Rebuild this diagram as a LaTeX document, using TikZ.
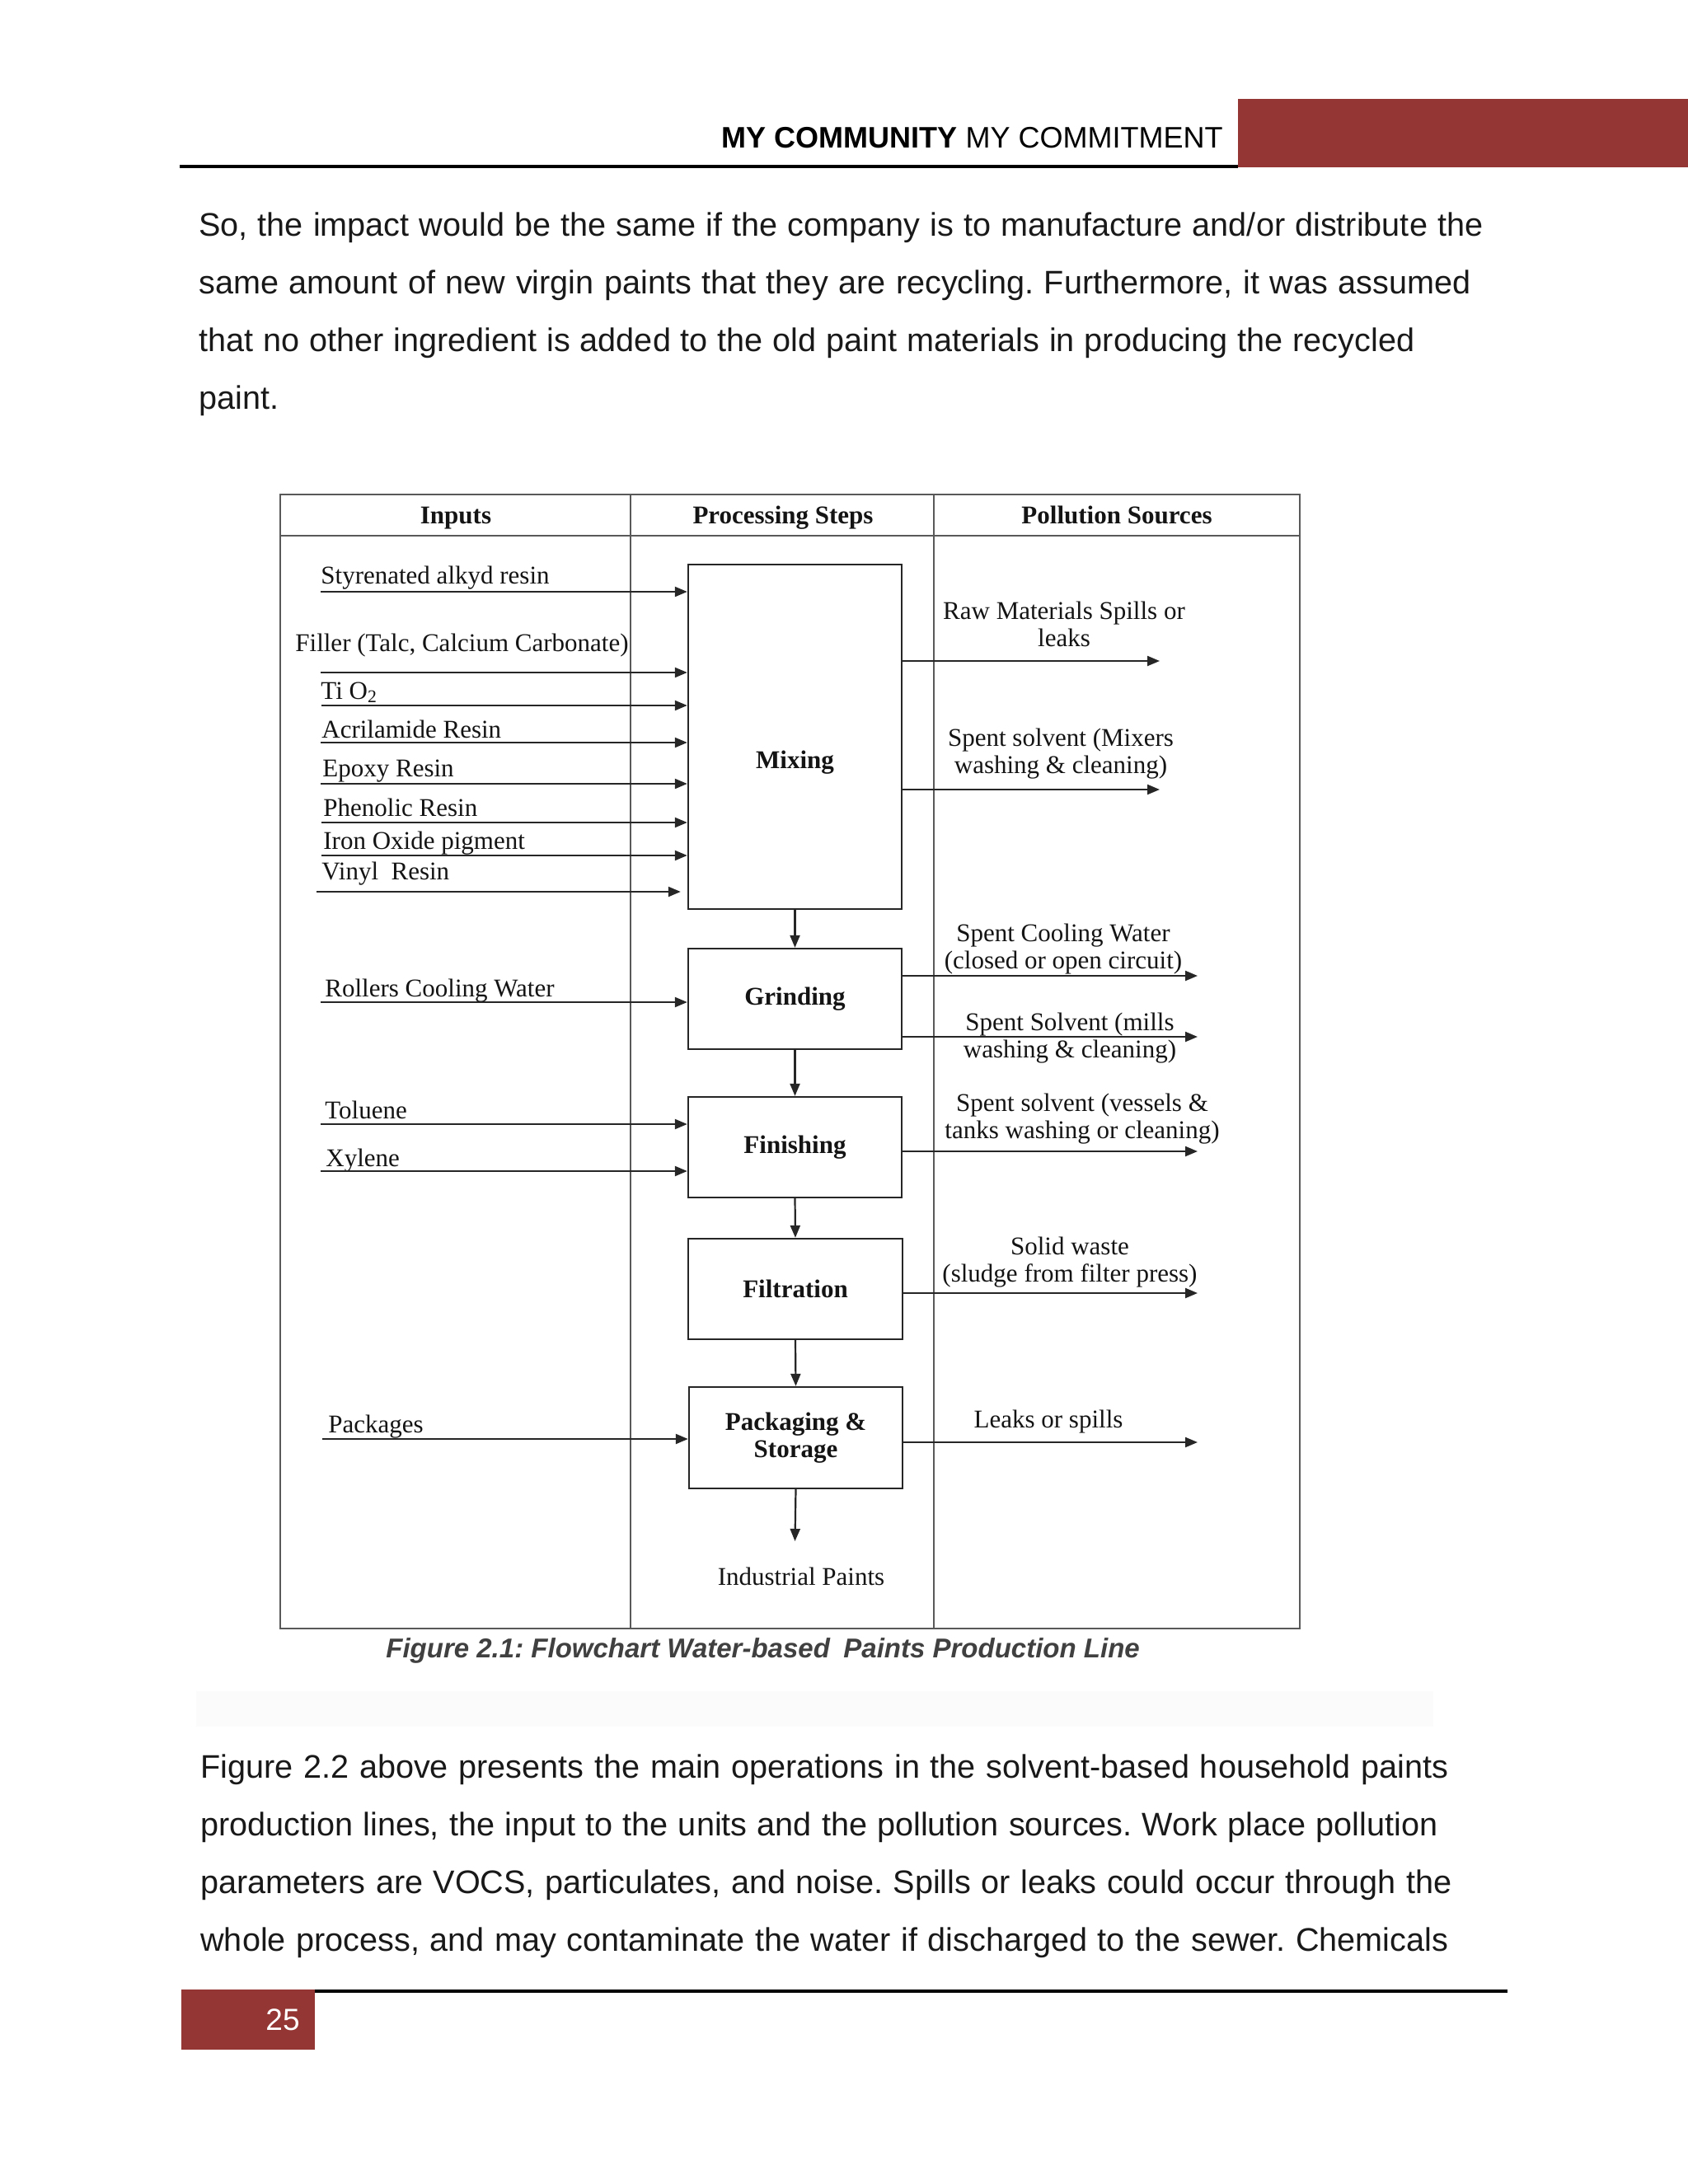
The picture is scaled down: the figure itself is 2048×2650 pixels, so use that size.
\documentclass[tikz,border=0pt]{standalone}
\usepackage{fontspec}
\setmainfont{Liberation Serif}
\newfontfamily\arialfont{Liberation Sans}
\usetikzlibrary{arrows.meta}
\definecolor{hdrred}{RGB}{148,54,52}
\definecolor{capgray}{RGB}{64,64,64}
\frenchspacing
\begin{document}
\begin{tikzpicture}[x=0.5pt,y=-0.5pt,
  lbl/.style={font=\fontsize{15.5}{16.5}\selectfont, inner sep=0pt, anchor=base west, text=black!92},
  hdr/.style={font=\bfseries\fontsize{15.5}{16.5}\selectfont, inner sep=0pt, anchor=base, text=black!92},
  src/.style={font=\fontsize{15.5}{16.5}\selectfont, inner sep=0pt, align=center, text=black!92},
  stepbox/.style={draw=black!85, line width=1.2pt, inner sep=0pt, minimum width=129.5pt, minimum height=61pt,
    font=\bfseries\fontsize{15.5}{16.5}\selectfont, align=center, text=black!92},
  arr/.style={draw=black!85, line width=1.1pt, -{Triangle[length=7.5pt,width=6pt]}},
  framel/.style={draw=black!65, line width=1.1pt},
  bodyline/.style={font=\arialfont\fontsize{19.8}{22}\selectfont, inner sep=0pt, anchor=base west, text=black!90}
]
\useasboundingbox (0,0) rectangle (2048,2650);
\fill[white] (0,0) rectangle (2048,2650);

% ---------- page header ----------
\fill[hdrred] (1502,120) rectangle (2048,203);
\draw[line width=2pt] (218,201.5) -- (1502,201.5);
\node[inner sep=0pt, anchor=base east, font=\arialfont\fontsize{18}{20}\selectfont] (pagehead) at (1484,179)
  {\textbf{MY COMMUNITY} MY COMMITMENT};

% ---------- paragraph 1 ----------
\node[bodyline] (p1a) at (241,286) {\makebox[779pt][s]{So, the impact would be the same if the company is to manufacture and/or distribute the}};
\node[bodyline] (p1b) at (241,356) {\makebox[771.5pt][s]{same amount of new virgin paints that they are recycling. Furthermore, it was assumed}};
\node[bodyline] (p1c) at (241,426) {\makebox[737.5pt][s]{that no other ingredient is added to the old paint materials in producing the recycled}};
\node[bodyline] (p1d) at (241,496) {paint.};

% ---------- figure frame ----------
\draw[framel] (340,600) rectangle (1577,1976);
\draw[framel] (340,650) -- (1577,650);
\draw[framel, line width=0.8pt] (765,600) -- (765,1976);
\draw[framel] (1133,600) -- (1133,1976);

\node[hdr] (hin) at (553,635) {Inputs};
\node[hdr] (hproc) at (950,635) {Processing Steps};
\node[hdr] (hpol) at (1355,635) {Pollution Sources};

% ---------- process boxes ----------
\node[stepbox, minimum height=209pt] (mix) at (964.5,894) {\raisebox{-15.5pt}[\height][\depth]{Mixing}};
\node[stepbox] (grind) at (964.5,1212) {Grinding};
\node[stepbox] (finish) at (964.5,1392) {Finishing};
\node[stepbox, minimum width=130pt] (filt) at (965,1564) {Filtration};
\node[stepbox, minimum height=61.5pt] (pack) at (965.5,1744.5) {Packaging \&\\Storage};

\draw[arr] (mix.south) -- (grind.north);
\draw[arr] (grind.south) -- (finish.north);
\draw[arr] (finish.south) -- (filt.north);
\draw[arr] (filt.south) -- (pack.north);
\coordinate (ipend) at (964.5,1870);
\draw[arr] (pack.south) -- (ipend);
\node[inner sep=0pt, anchor=base, font=\fontsize{15.5}{16.5}\selectfont, text=black!92] (ip) at (972,1923) {Industrial Paints};

% ---------- inputs ----------
\node[lbl] (t1) at (389,708) {Styrenated alkyd resin};
\node[lbl] (t2) at (358,790) {Filler (Talc, Calcium Carbonate)};
\node[lbl] (t3) at (389,848) {Ti O\textsubscript{2}};
\node[lbl] (t4) at (390,895) {Acrilamide Resin};
\node[lbl] (t5) at (391,942) {Epoxy Resin};
\node[lbl] (t6) at (392,990) {Phenolic Resin};
\node[lbl] (t7) at (392,1030) {Iron Oxide pigment};
\node[lbl] (t8) at (390,1067) {Vinyl\enspace Resin};
\node[lbl] (t9) at (394,1209) {Rollers Cooling Water};
\node[lbl] (t10) at (394,1357) {Toluene};
\node[lbl] (t11) at (395,1415) {Xylene};
\node[lbl] (t12) at (398,1738) {Packages};

\coordinate (a1) at (389,718);
\coordinate (a2) at (389,816);
\coordinate (a3) at (390,856);
\coordinate (a4) at (389,901);
\coordinate (a5) at (389,951);
\coordinate (a6) at (390,998);
\coordinate (a7) at (390,1038);
\coordinate (a8) at (384,1082);
\coordinate (a9) at (389,1216);
\coordinate (a10) at (389,1364);
\coordinate (a11) at (389,1421);
\coordinate (a12) at (391,1746);

\foreach \a in {a1,a2,a3,a4,a5,a6,a7} \draw[arr] (\a) -- (\a -| mix.west);
\draw[arr, shorten >=4pt] (a8) -- (a8 -| mix.west);
\draw[arr] (a9) -- (a9 -| grind.west);
\draw[arr] (a10) -- (a10 -| finish.west);
\draw[arr] (a11) -- (a11 -| finish.west);
\draw[arr] (a12) -- (a12 -| pack.west);

% ---------- pollution sources ----------
\coordinate (o1) at (1407,802);
\coordinate (o2) at (1407,958);
\coordinate (o3) at (1453,1184);
\coordinate (o4) at (1453,1258);
\coordinate (o5) at (1453,1397);
\coordinate (o6) at (1453,1569);
\coordinate (o7) at (1453,1750);
\draw[arr] (o1 -| mix.east) -- (o1);
\draw[arr] (o2 -| mix.east) -- (o2);
\draw[arr] (o3 -| grind.east) -- (o3);
\draw[arr] (o4 -| grind.east) -- (o4);
\draw[arr] (o5 -| finish.east) -- (o5);
\draw[arr] (o6 -| filt.east) -- (o6);
\draw[arr] (o7 -| pack.east) -- (o7);

\node[src] (s1) at (1291,757.5) {Raw Materials Spills or\\leaks};
\node[src] (s2) at (1287,914.5) {Spent solvent (Mixers\\washing \& cleaning)};
\node[src] (s3) at (1290,1152) {Spent Cooling Water\\(closed or open circuit)};
\node[src] (s4) at (1298,1259.5) {Spent Solvent (mills\\washing \& cleaning)};
\node[src] (s5) at (1313,1357.5) {Spent solvent (vessels \&\\tanks washing or cleaning)};
\node[src] (s6) at (1298,1531.5) {Solid waste\\(sludge from filter press)};
\node[src, anchor=base] (s7) at (1272,1732) {Leaks or spills};

% ---------- caption ----------
\node[inner sep=0pt, anchor=base west, font=\arialfont\bfseries\itshape\fontsize{16.5}{18}\selectfont, text=capgray] (cap) at (468,2011)
  {Figure 2.1: Flowchart Water-based\enspace Paints Production Line};
\fill[black!1.5] (238,2052) rectangle (1739,2095);

% ---------- paragraph 2 ----------
\node[bodyline] (p2a) at (243,2157) {\makebox[757pt][s]{Figure 2.2 above presents the main operations in the solvent-based household paints}};
\node[bodyline] (p2b) at (243,2227) {\makebox[750.5pt][s]{production lines, the input to the units and the pollution sources. Work place pollution}};
\node[bodyline] (p2c) at (243,2297) {\makebox[759pt][s]{parameters are VOCS, particulates, and noise. Spills or leaks could occur through the}};
\node[bodyline] (p2d) at (243,2367) {\makebox[757pt][s]{whole process, and may contaminate the water if discharged to the sewer. Chemicals}};

% ---------- footer ----------
\fill[hdrred] (220,2414) rectangle (382,2487);
\draw[line width=2pt] (382,2415.5) -- (1829,2415.5);
\node[inner sep=0pt, anchor=base east, font=\arialfont\fontsize{18.5}{20}\selectfont, text=white] (pgnum) at (364,2463) {25};
\end{tikzpicture}
\end{document}
